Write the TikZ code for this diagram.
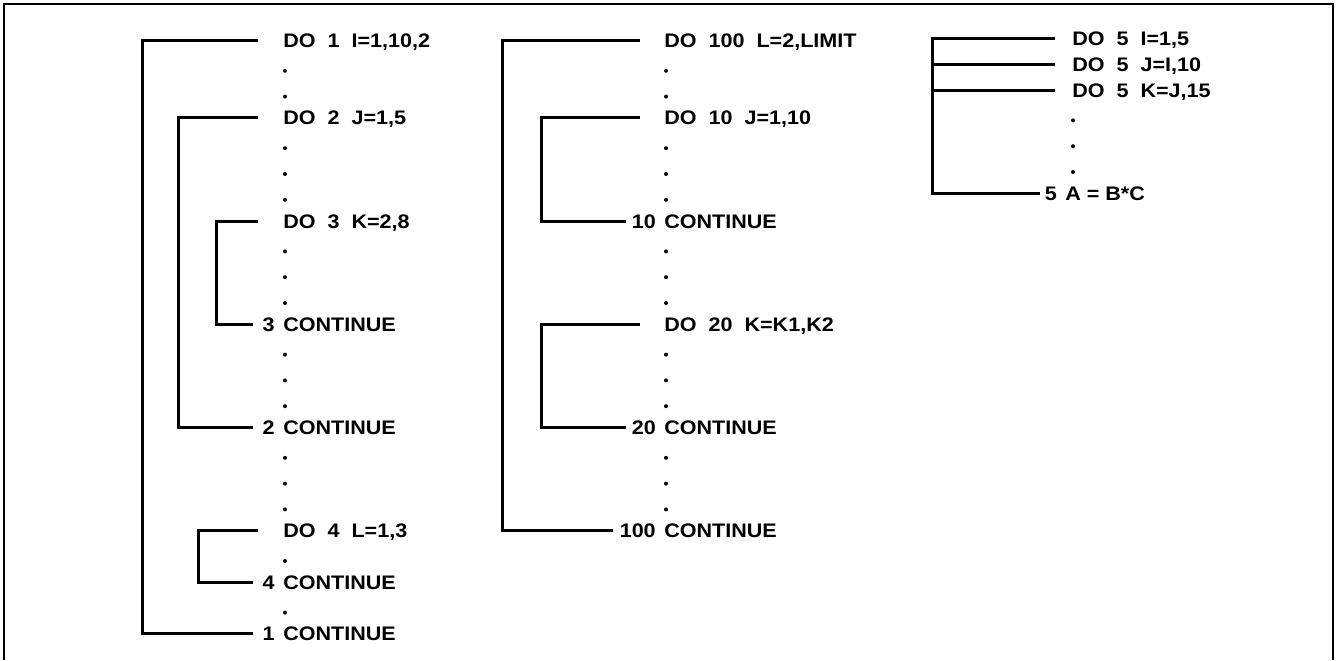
\documentclass[tikz,border=0pt]{standalone}
\usepackage{fontspec}
\newfontfamily\codefont{Liberation Sans}[FakeStretch=1.1]
\usetikzlibrary{
	arrows,
	positioning
}
\tikzset{
	bracket/.style={line width=2.25pt},
	frameline/.style={line width=1.9pt},
	stmt/.style={anchor=west, inner sep=0pt, text height=10.5pt, text depth=0pt,
		font=\codefont\bfseries\fontsize{14.7pt}{17pt}\selectfont}
}

\begin{document}
\begin{tikzpicture}[x=0.75pt, y=-0.75pt]
	\useasboundingbox (0,0) rectangle (1337,660);
	\draw[frameline] (4,660) -- (4,4) -- (1333,4) -- (1333,660);
	% first program: nested loops
	\node[stmt] (d1) at (283,40.5) {DO~~1~~I=1,10,2};
	\node[stmt] (d2) at (283,{40.5+25.8*3}) {DO~~2~~J=1,5};
	\node[stmt] (d3) at (283,{40.5+25.8*7}) {DO~~3~~K=2,8};
	\node[stmt] (c3) at (283,{40.5+25.8*11}) {CONTINUE};
	\node[stmt, left=6pt of c3] (n3) {3};
	\node[stmt] (c2) at (283,{40.5+25.8*15}) {CONTINUE};
	\node[stmt, left=6pt of c2] (n2) {2};
	\node[stmt] (d4) at (283,{40.5+25.8*19}) {DO~~4~~L=1,3};
	\node[stmt] (c4) at (283,{40.5+25.8*21}) {CONTINUE};
	\node[stmt, left=6pt of c4] (n4) {4};
	\node[stmt] (c1) at (283,{40.5+25.8*23}) {CONTINUE};
	\node[stmt, left=6pt of c1] (n1) {1};
	\coordinate (k1) at (142.5,40.5);
	\coordinate (k2) at (178.5,{40.5+25.8*3});
	\coordinate (k3) at (216.5,{40.5+25.8*7});
	\coordinate (k4) at (198.5,{40.5+25.8*19});
	\draw[bracket, shorten <=19pt, shorten >=7pt] (d1.west) -- (k1) |- (n1.west);
	\draw[bracket, shorten <=19pt, shorten >=7pt] (d2.west) -- (k2) |- (n2.west);
	\draw[bracket, shorten <=19pt, shorten >=7pt] (d3.west) -- (k3) |- (n3.west);
	\draw[bracket, shorten <=19pt, shorten >=7pt] (d4.west) -- (k4) |- (n4.west);
	\foreach \r in {1,2,4,5,6,8,9,10,12,13,14,16,17,18,20,22}
		\fill (285,{40.5+25.8*\r+4.5}) circle (1.5pt);
	% second program: loops one after the other
	\node[stmt] (d100) at (664,40.5) {DO~~100~~L=2,LIMIT};
	\node[stmt] (d10) at (664,{40.5+25.8*3}) {DO~~10~~J=1,10};
	\node[stmt] (c10) at (664,{40.5+25.8*7}) {CONTINUE};
	\node[stmt, left=6pt of c10] (n10) {10};
	\node[stmt] (d20) at (664,{40.5+25.8*11}) {DO~~20~~K=K1,K2};
	\node[stmt] (c20) at (664,{40.5+25.8*15}) {CONTINUE};
	\node[stmt, left=6pt of c20] (n20) {20};
	\node[stmt] (c100) at (664,{40.5+25.8*19}) {CONTINUE};
	\node[stmt, left=6pt of c100] (n100) {100};
	\coordinate (k100) at (502.5,40.5);
	\coordinate (k10) at (541.5,{40.5+25.8*3});
	\coordinate (k20) at (541.5,{40.5+25.8*11});
	\draw[bracket, shorten <=18pt, shorten >=5pt] (d100.west) -- (k100) |- (n100.west);
	\draw[bracket, shorten <=18pt, shorten >=4pt] (d10.west) -- (k10) |- (n10.west);
	\draw[bracket, shorten <=18pt, shorten >=4pt] (d20.west) -- (k20) |- (n20.west);
	\foreach \r in {1,2,4,5,6,8,9,10,12,13,14,16,17,18}
		\fill (666,{40.5+25.8*\r+4.5}) circle (1.5pt);
	% third program: one shared end
	\node[stmt] (d5a) at (1072,38.5) {DO~~5~~I=1,5};
	\node[stmt] (d5b) at (1072,{38.5+25.8}) {DO~~5~~J=I,10};
	\node[stmt] (d5c) at (1072,{38.5+25.8*2}) {DO~~5~~K=J,15};
	\node[stmt] (c5) at (1065,{38.5+25.8*6}) {A = B*C};
	\node[stmt, left=6pt of c5] (n5) {5};
	\coordinate (k5) at (932.5,38.5);
	\draw[bracket, shorten <=12.75pt, shorten >=3pt] (d5a.west) -- (k5) |- (n5.west);
	\draw[bracket, shorten <=12.75pt] (d5b.west) -- (d5b -| k5);
	\draw[bracket, shorten <=12.75pt] (d5c.west) -- (d5c -| k5);
	\foreach \r in {3,4,5}
		\fill (1073,{38.5+25.8*\r+4.5}) circle (1.5pt);
\end{tikzpicture}
\end{document}
